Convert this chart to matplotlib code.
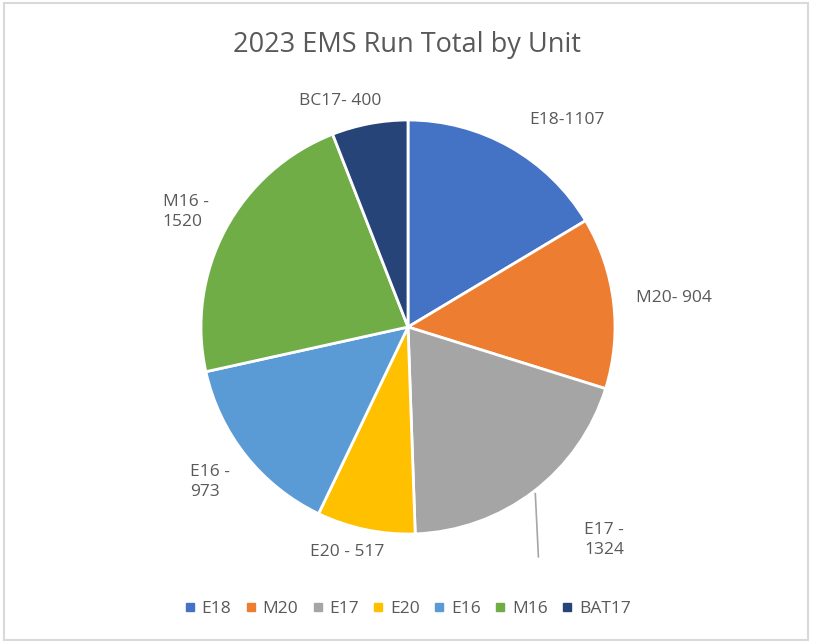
import matplotlib.pyplot as plt
from matplotlib.patches import Rectangle
from matplotlib.lines import Line2D

units = ['E18', 'M20', 'E17', 'E20', 'E16', 'M16', 'BAT17']
runs = [1107, 904, 1324, 517, 973, 1520, 400]
labels = ['E18-1107', 'M20- 904', 'E17 -\n1324', 'E20 - 517', 'E16 -\n973', 'M16 -\n1520', 'BC17- 400']
colors = ['#4472C4', '#ED7D31', '#A5A5A5', '#FFC000', '#5B9BD5', '#70AD47', '#264478']

plt.rcParams['font.family'] = ['Open Sans', 'DejaVu Sans']
txt = '#595959'

fig = plt.figure(figsize=(8.14, 6.41), dpi=100)
# chart border
fig.patches.append(Rectangle((4/814, 1/641), 804/814, 637/641, transform=fig.transFigure,
                             fill=False, edgecolor='#d9d9d9', linewidth=1.5))

ax = fig.add_axes([201/814, 107/641, 414/814, 414/641])
ax.pie(runs, colors=colors, startangle=90, counterclock=False,
       wedgeprops=dict(edgecolor='white', linewidth=2))
ax.set_xlim(-1, 1)
ax.set_ylim(-1, 1)
ax.set_aspect('equal')
ax.axis('off')

# label positions in pie units (radius 1)
pos = [(0.77, 1.0, 'center'), (1.285, 0.14, 'center'), (0.85, -1.03, 'left'),
       (-0.295, -1.087, 'center'), (-1.053, -0.75, 'left'), (-1.184, 0.556, 'left'),
       (-0.33, 1.092, 'center')]
for (x, y, ha), lab in zip(pos, labels):
    ax.text(x, y, lab, ha=ha, va='center', fontsize=12.5, color=txt, linespacing=1.35)

# leader line for E17
ax.add_line(Line2D([0.615, 0.63], [-0.805, -1.11], color='#a6a6a6', linewidth=1.2, clip_on=False))

fig.text(0.5, 1 - 45/641, '2023 EMS Run Total by Unit', ha='center', va='center',
         fontsize=19.5, color=txt)

handles = [Line2D([], [], marker='s', linestyle='none', markersize=6, color=c) for c in colors]
fig.legend(handles, units, loc='center', bbox_to_anchor=(0.5, 1 - 609/641), ncol=7,
           frameon=False, fontsize=12.5, labelcolor=txt, handlelength=0.8,
           handletextpad=0.3, columnspacing=0.7)

fig.savefig('out.png', dpi=100)
